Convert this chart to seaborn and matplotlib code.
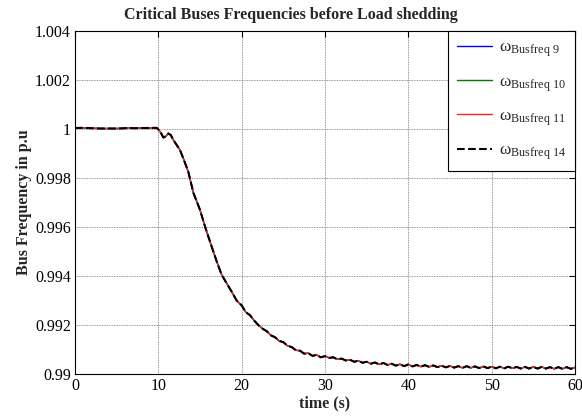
import matplotlib
matplotlib.use("Agg")
import matplotlib.pyplot as plt
import seaborn as sns
import pandas as pd

# time axis (s) and bus frequency (p.u)
time_s = [
    0.0, 1.0, 2.0, 3.0, 4.0, 5.0, 6.0, 6.5, 7.0, 8.0, 9.0, 9.8,
    10.0, 10.3, 10.6, 10.9, 11.2, 11.5, 11.8, 12.1, 12.6, 13.0, 13.6,
    14.2, 15.0, 15.6, 16.4, 17.0, 17.6, 18.2, 18.8, 19.4,
    20.0, 20.5, 21.0, 21.5, 22.0, 22.5, 23.0, 23.5, 24.0, 24.5,
    25.0, 25.5, 26.0, 26.5, 27.0, 27.5, 28.0, 28.5, 29.0, 29.5,
    30.0, 30.5, 31.0, 31.5, 32.0, 32.5, 33.0, 33.5, 34.0, 34.5,
    35.0, 35.5, 36.0, 36.5, 37.0, 37.5, 38.0, 38.5, 39.0, 39.5,
    40.0, 40.5, 41.0, 41.5, 42.0, 42.5, 43.0, 43.5, 44.0, 44.5,
    45.0, 45.5, 46.0, 46.5, 47.0, 47.5, 48.0, 48.5, 49.0, 49.5,
    50.0, 50.5, 51.0, 51.5, 52.0, 52.5, 53.0, 53.5, 54.0, 54.5,
    55.0, 55.5, 56.0, 56.5, 57.0, 57.5, 58.0, 58.5, 59.0, 59.5, 60.0,
]
freq_bus14 = [
    1.00004, 1.00005, 1.00003, 1.00002, 1.00002, 1.00002, 1.00003, 1.00005, 1.00003, 1.00004, 1.00004, 1.00005,
    0.99998, 0.99985, 0.99965, 0.99970, 0.99982, 0.99975, 0.99955, 0.99940, 0.99914, 0.99880, 0.99825,
    0.99740, 0.99670, 0.99602, 0.99520, 0.99460, 0.99405, 0.99370, 0.99336, 0.99300,
    0.99280, 0.99252, 0.99240, 0.99218, 0.99200, 0.99185, 0.99175, 0.99158, 0.99150, 0.99135,
    0.99130, 0.99115, 0.99110, 0.99097, 0.99095, 0.99083, 0.99085, 0.99074, 0.99078, 0.99068,
    0.99073, 0.99066, 0.99068, 0.99060, 0.99063, 0.99055, 0.99058, 0.99050, 0.99054, 0.99046,
    0.99050, 0.99042, 0.99047, 0.99039, 0.99045, 0.99037, 0.99042, 0.99034, 0.99040, 0.99032,
    0.99039, 0.99031, 0.99037, 0.99030, 0.99036, 0.99029, 0.99035, 0.99028, 0.99034, 0.99027,
    0.99033, 0.99026, 0.99032, 0.99025, 0.99032, 0.99025, 0.99031, 0.99024, 0.99031, 0.99024,
    0.99030, 0.99023, 0.99030, 0.99023, 0.99030, 0.99023, 0.99029, 0.99022, 0.99029, 0.99022,
    0.99029, 0.99022, 0.99029, 0.99022, 0.99028, 0.99021, 0.99028, 0.99021, 0.99028, 0.99021, 0.99027,
]
# the other critical buses lie on top of bus 14 at this scale
freq_bus9 = list(freq_bus14)
freq_bus10 = list(freq_bus14)
freq_bus11 = list(freq_bus14)

series = [
    (freq_bus9, r"$\mathrm{\omega_{Busfreq\ 9}}$", "blue", "-", 1.0),
    (freq_bus10, r"$\mathrm{\omega_{Busfreq\ 10}}$", "#007a00", "-", 1.0),
    (freq_bus11, r"$\mathrm{\omega_{Busfreq\ 11}}$", "#ff2020", "-", 1.0),
    (freq_bus14, r"$\mathrm{\omega_{Busfreq\ 14}}$", "black", "--", 1.5),
]

sns.set_style("white")
plt.rcParams["font.family"] = ["Liberation Serif", "DejaVu Serif"]
plt.rcParams["mathtext.fontset"] = "custom"
plt.rcParams["mathtext.rm"] = "Liberation Serif"
plt.rcParams["mathtext.it"] = "Liberation Serif:italic"
plt.rcParams["mathtext.bf"] = "Liberation Serif:bold"

fig = plt.figure(figsize=(5.82, 4.19), dpi=100)
ax = fig.add_axes([75 / 582, 45 / 419, 500 / 582, 343 / 419])

for values, label, color, style, lw in series:
    df = pd.DataFrame({"time": time_s, "freq": values})
    sns.lineplot(
        data=df, x="time", y="freq", ax=ax, color=color,
        linestyle=style, linewidth=lw, label=label, estimator=None,
    )

ax.set_xlim(0, 60)
ax.set_ylim(0.99, 1.004)
ax.set_xticks([0, 10, 20, 30, 40, 50, 60])
ax.set_yticks([0.99, 0.992, 0.994, 0.996, 0.998, 1.0, 1.002, 1.004])
ax.yaxis.set_major_formatter(matplotlib.ticker.FuncFormatter(lambda v, p: f"{v:g}"))
ax.tick_params(direction="in", top=True, right=True, labelsize=11.5,
               length=4, width=0.8, colors="black", pad=3)
ax.grid(True, color="0.45", linestyle=(0, (1, 1)), linewidth=0.6)
for sp in ax.spines.values():
    sp.set_color("black")
    sp.set_linewidth(0.8)

fig.text(0.5, 1 - 15 / 419, "Critical Buses Frequencies before Load shedding",
         fontsize=11.5, fontweight="bold", ha="center", va="center")
ax.set_xlabel("time (s)", fontsize=11.5, fontweight="bold", labelpad=1)
ax.set_ylabel("Bus Frequency in p.u", fontsize=11.5, fontweight="bold", labelpad=2)

leg = ax.legend(loc="upper right", borderaxespad=0, fontsize=12.5,
                handlelength=2.0, handletextpad=0.45, labelspacing=0.85,
                fancybox=False, framealpha=1, edgecolor="black", borderpad=0.5)
leg.get_frame().set_linewidth(0.8)

fig.savefig("out.png", dpi=100)
